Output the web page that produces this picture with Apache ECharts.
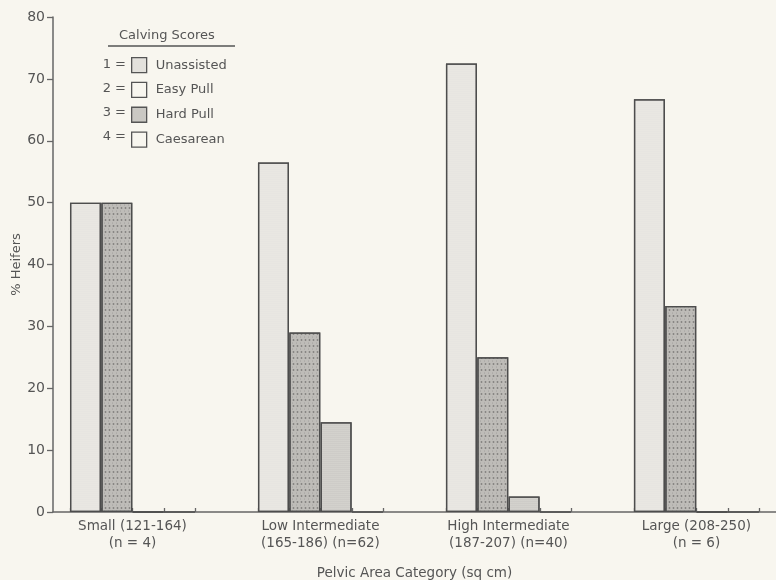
<!DOCTYPE html>
<html>
<head>
<meta charset="utf-8">
<script src="https://cdn.jsdelivr.net/npm/echarts@6/dist/echarts.min.js"></script>
<style>
html,body{margin:0;padding:0;background:#f8f6ef;}
#c{width:776px;height:580px;}
</style>
</head>
<body>
<div id="c"></div>
<script>
// ---- data ----
const categories = [
  "Small (121-164)\n(n = 4)",
  "Low Intermediate\n(165-186) (n=62)",
  "High Intermediate\n(187-207) (n=40)",
  "Large (208-250)\n(n = 6)"
];
const seriesNames = ["Unassisted", "Easy Pull", "Hard Pull", "Caesarean"];
const scoreLabels = ["1 =", "2 =", "3 =", "4 ="];
const unassisted = [50, 56.5, 72.5, 66.7];
const easyPull   = [50, 29.0, 25.0, 33.3];
const hardPull   = [0, 14.5, 2.5, 0];
const caesarean  = [0, 0, 0, 0];
const yTicks = [0, 10, 20, 30, 40, 50, 60, 70, 80];

const values = [unassisted, easyPull, hardPull, caesarean];
const SLOTS = 6; // 4 bars + gap per category

// style per series (bars)
const barFills = ['#eceae5', '#bebcb8', '#e0ded9', '#f8f6ef'];
const barDecals = [
  {symbol:'circle', symbolSize:0.4, color:'rgba(150,150,150,0.35)', dashArrayX:[2,0], dashArrayY:[2,0]},
  {symbol:'circle', symbolSize:0.9, color:'rgba(60,60,60,0.45)', dashArrayX:[[3,1],[1,3]], dashArrayY:[2,1]},
  {symbol:'circle', symbolSize:0.6, color:'rgba(90,90,90,0.5)', dashArrayX:[2,0], dashArrayY:[2,0]},
  null
];
const legendFills = ['#e3e1dc', '#f8f6ef', '#cac8c3', '#f8f6ef'];

const chart = echarts.init(document.getElementById('c'), null, {renderer:'canvas'});

const xMin = -1.037, xMax = 22.04;
const labelPos = categories.map((_, c) => c * SLOTS + 1.5);
const tickPos = [];
categories.forEach((_, c) => { for (let s = -1; s < 4; s++) tickPos.push(c * SLOTS + s + 0.5); });

const series = seriesNames.map((name, i) => ({
  name: name,
  type: 'bar',
  barWidth: 31,
  barGap: '-100%',
  data: values[i].map((v, c) => [c * SLOTS + i, v]),
  itemStyle: {
    color: barFills[i],
    borderColor: '#4d4d4d',
    borderWidth: 1.3,
    decal: barDecals[i] || undefined
  },
  emphasis: {disabled: true},
  silent: true
}));

const txt = '#555';
const font = "'DejaVu Sans', sans-serif";

chart.setOption({
  backgroundColor: '#f8f6ef',
  animation: false,
  textStyle: {fontFamily: font},
  title: {
    text: 'Calving Scores',
    left: 119, top: 29, padding: 0,
    textStyle: {fontSize: 13, fontWeight: 'normal', color: txt, fontFamily: font}
  },
  legend: {
    orient: 'vertical',
    left: 131, top: 57, padding: 0,
    itemWidth: 15, itemHeight: 15, itemGap: 8.5,
    icon: 'rect',
    selectedMode: false,
    textStyle: {fontSize: 13, color: txt, fontFamily: font, padding: [0,0,0,4]},
    data: seriesNames.map((n, i) => ({
      name: n,
      itemStyle: {color: legendFills[i], borderColor: '#555', borderWidth: 1.3, decal: 'none'}
    }))
  },
  graphic: [
    {type: 'line', shape: {x1: 108, y1: 46, x2: 235, y2: 46}, style: {stroke: '#555', lineWidth: 1.3}},
    ...scoreLabels.map((t, i) => ({
      type: 'text', x: 126, y: 65 + i * 24,
      style: {text: t, fill: txt, font: "13px " + font, align: 'right', verticalAlign: 'middle'}
    }))
  ],
  grid: {left: 53, right: 0, top: 17, bottom: 68, containLabel: false, outerBoundsMode: 'none'},
  xAxis: {
    type: 'value',
    min: xMin, max: xMax,
    name: 'Pelvic Area Category (sq cm)',
    nameLocation: 'middle',
    nameGap: 54,
    nameTextStyle: {fontSize: 13.5, color: txt, fontFamily: font},
    axisLine: {show: true, onZero: false, lineStyle: {color: '#666', width: 1.5}},
    axisTick: {show: true, inside: true, length: 4, customValues: tickPos, lineStyle: {color: '#666', width: 1.3}},
    axisLabel: {
      show: true,
      customValues: labelPos,
      margin: 6,
      fontSize: 13.5, lineHeight: 17, color: txt, fontFamily: font,
      formatter: v => {
        const c = labelPos.findIndex(p => Math.abs(p - v) < 0.01);
        return c >= 0 ? categories[c] : '';
      }
    },
    splitLine: {show: false}
  },
  yAxis: {
    type: 'value',
    min: 0, max: 80, interval: 10,
    name: '% Heifers',
    nameLocation: 'middle',
    nameGap: 30,
    nameMoveOverlap: false,
    nameTextStyle: {fontSize: 13, color: txt, fontFamily: font},
    axisLine: {show: true, onZero: false, lineStyle: {color: '#666', width: 1.5}},
    axisTick: {show: true, length: 6, lineStyle: {color: '#666', width: 1.3}},
    axisLabel: {fontSize: 14, color: txt, fontFamily: font, margin: 8,
      formatter: v => yTicks.includes(v) ? String(v) : ''},
    splitLine: {show: false}
  },
  series: series
});
</script>
</body>
</html>
